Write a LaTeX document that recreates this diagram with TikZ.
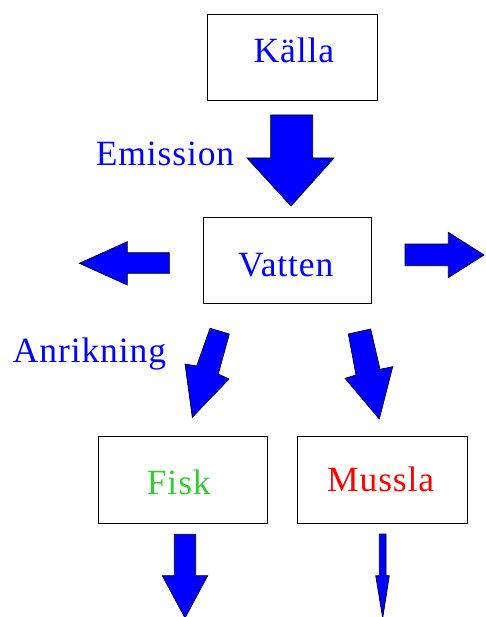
\documentclass[tikz,border=0pt]{standalone}
\usepackage{fontspec}
\setmainfont{Liberation Serif}
\newfontfamily\spacedserif[LetterSpace=2.5]{Liberation Serif}
\definecolor{fiskgreen}{RGB}{50,205,50}
\begin{document}
\begin{tikzpicture}[x=1pt,y=-1pt,
  box/.style={draw=black,line width=0.9pt,inner sep=0pt,fill=white},
  lbl/.style={font=\spacedserif\fontsize{35.5}{40}\selectfont,inner sep=0pt,anchor=base,text=blue},
  blockarrow/.style={draw=black,line width=0.7pt,fill=blue,line join=miter}]
\useasboundingbox (0,0) rectangle (485,617);
% boxes
\node[box,minimum width=170pt,minimum height=86pt] (kalla) at (292,57) {};
\node[box,minimum width=168pt,minimum height=86pt] (vatten) at (287,260.3) {};
\node[box,minimum width=169pt,minimum height=87pt] (fisk) at (182.8,479.7) {};
\node[box,minimum width=170pt,minimum height=87pt] (mussla) at (382.3,480.3) {};
% texts
\node[lbl] (tkalla) at (293.8,62.7) {Källa};
\node[lbl] (temission) at (165,165.7) {Emission};
\node[lbl] (tvatten) at (285.8,276.7) {Vatten};
\node[lbl] (tanrik) at (89.5,362.3) {Anrikning};
\node[lbl,text=fiskgreen] (tfisk) at (178.8,494) {Fisk};
\node[lbl,text=red] (tmussla) at (380.7,491.7) {Mussla};
% block arrows
\draw[blockarrow] (270.7,115) -- (312.7,115) -- (312.7,158) -- (334,158) -- (291,206) -- (247,158) -- (270.7,158) -- cycle;
\draw[blockarrow] (169.3,252.7) -- (127.3,252.7) -- (127.3,241.7) -- (79.3,263.3) -- (127.3,285) -- (127.3,273.3) -- (169.3,273.3) -- cycle;
\draw[blockarrow] (405,244) -- (448.3,244) -- (448.3,232.3) -- (484,255) -- (448.3,277.7) -- (448.3,265.7) -- (405,265.7) -- cycle;
\draw[blockarrow] (210,328.3) -- (229.3,334) -- (218.3,374) -- (229,379) -- (192.3,417.3) -- (185,364) -- (196.7,366) -- cycle;
\draw[blockarrow] (348.3,334) -- (370.7,329) -- (380,369.3) -- (392.7,366.7) -- (379.3,419) -- (345,378.3) -- (356,375) -- cycle;
\draw[blockarrow] (174.3,534.3) -- (195.7,534.3) -- (195.7,575.7) -- (207.7,575.7) -- (185,618) -- (162.3,575.7) -- (174.3,575.7) -- cycle;
\draw[blockarrow] (379.3,534) -- (386,534) -- (386,575.7) -- (389.3,575.7) -- (382.7,618) -- (375.7,575.7) -- (379.3,575.7) -- cycle;
\end{tikzpicture}
\end{document}
